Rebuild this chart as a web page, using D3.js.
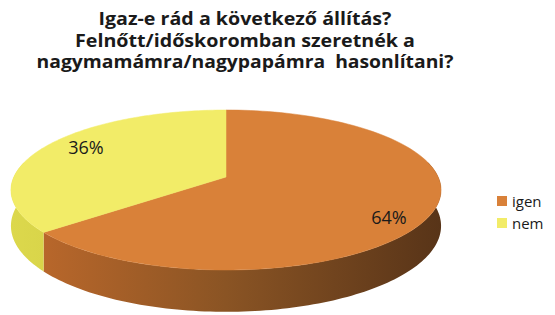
<!DOCTYPE html>
<html>
<head>
<meta charset="utf-8">
<script src="https://cdn.jsdelivr.net/npm/d3@7"></script>
<style>
  body { margin: 0; background: #fff; }
  svg { display: block; }
  .title { font-family: "Open Sans", sans-serif; font-weight: bold; font-size: 17px; fill: #1a1a1a; white-space: pre; }
  .pct { font-family: "Open Sans", sans-serif; font-size: 18px; fill: #1a1a1a; }
  .legend text { font-family: "Open Sans", sans-serif; font-size: 15px; fill: #1a1a1a; }
</style>
</head>
<body>
<script>
const width = 555;
const height = 315;

// data
const categories = ['igen', 'nem'];
const values = [64, 36];
const titleLines = [
    'Igaz-e rád a következő állítás?',
    'Felnőtt/időskoromban szeretnék a',
    'nagymamámra/nagypapámra  hasonlítani?'
];

const topColors = ['#d98139', '#f2ec68'];
const sideColors = [['#c06a2c', '#8a5424', '#583418'], ['#dcd84c', '#c8c43e', '#b0ac30']];

const svg = d3.select('body')
    .append('svg')
    .attr('width', width)
    .attr('height', height);

// title, line widths
const titleWidths = [293, 340, 417];
svg.selectAll('text.title')
    .data(titleLines)
    .enter()
    .append('text')
        .attr('class', 'title')
        .attr('x', 245)
        .attr('y', (d, i) => 25 + i * 21.5)
        .attr('text-anchor', 'middle')
        .attr('textLength', (d, i) => titleWidths[i])
        .attr('lengthAdjust', 'spacingAndGlyphs')
        .text(d => d);

// tilted disc seen in perspective: u across, v towards viewer
const cx = 226, cy = 177, A = 212.2, B = 77.9, k = 0.1625, depth = 35;
const project = (a, drop) => {
    const u = Math.sin(a), v = -Math.cos(a);
    const w = 1 - k * v;
    return [cx + A * u / w, cy + B * v / w + (drop ? depth / w : 0)];
};

// orange from 12 o'clock clockwise, yellow closes the circle
const pie = d3.pie().sort(null);
const slices = pie(values).map((d, i) => ({ idx: i, start: d.startAngle, end: d.endAngle }));

const defs = svg.append('defs');
slices.forEach(s => {
    const g = defs.append('linearGradient')
        .attr('id', 'side' + s.idx)
        .attr('gradientUnits', 'userSpaceOnUse')
        .attr('x1', 11).attr('x2', 441).attr('y1', 0).attr('y2', 0);
    g.selectAll('stop')
        .data(sideColors[s.idx])
        .enter()
        .append('stop')
            .attr('offset', (d, i) => i / 2)
            .attr('stop-color', d => d);
});

const arcPoints = (s, drop) => d3.range(0, 121).map(i => project(s.start + (s.end - s.start) * i / 120, drop));

// sides, only the front half shows
slices.forEach(s => {
    const a0 = Math.max(s.start, Math.PI / 2 - 0.2);
    const a1 = Math.min(s.end, 3 * Math.PI / 2 + 0.2);
    if (a1 <= a0) return;
    const seg = { start: a0, end: a1 };
    const top = arcPoints(seg, false);
    const bot = arcPoints(seg, true).reverse();
    svg.append('path')
        .attr('d', d3.line()(top.concat(bot)) + 'Z')
        .attr('fill', 'url(#side' + s.idx + ')');
});

// top faces
slices.forEach(s => {
    const pts = [[cx, cy]].concat(arcPoints(s, false));
    svg.append('path')
        .attr('d', d3.line()(pts) + 'Z')
        .attr('fill', topColors[s.idx])
        .attr('stroke', topColors[s.idx])
        .attr('stroke-width', 0.5);
});

// percent labels
const labelPos = [[389, 217], [86, 147]];
slices.forEach(s => {
    svg.append('text')
        .attr('class', 'pct')
        .attr('x', labelPos[s.idx][0])
        .attr('y', labelPos[s.idx][1])
        .attr('text-anchor', 'middle')
        .attr('dominant-baseline', 'central')
        .text(values[s.idx] + '%');
});

// legend
const legend = svg.append('g')
    .attr('class', 'legend')
    .attr('transform', 'translate(497, 201)');
const item = legend.selectAll('g')
    .data(categories)
    .enter()
    .append('g')
        .attr('transform', (d, i) => `translate(0, ${i * 22})`);
item.append('rect')
    .attr('x', 0).attr('y', -5)
    .attr('width', 10).attr('height', 10)
    .attr('fill', (d, i) => topColors[i]);
item.append('text')
    .attr('x', 15)
    .attr('y', 0)
    .attr('dominant-baseline', 'central')
    .text(d => d);
</script>
</body>
</html>
